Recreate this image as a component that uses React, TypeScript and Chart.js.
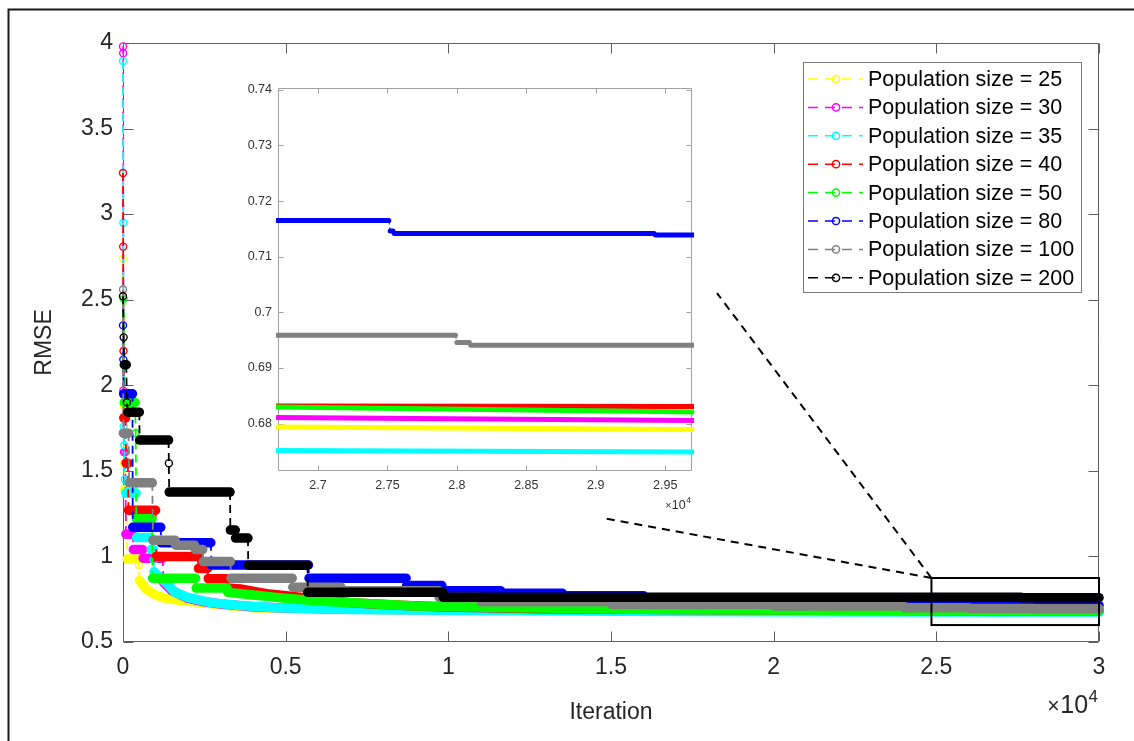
import React, { useEffect, useRef } from "react";
import { Chart, registerables } from "chart.js";

Chart.register(...registerables);

const FONT = "'Liberation Sans', Arial, Helvetica, sans-serif";

const seriesLabels = [
  "Population size = 25",
  "Population size = 30",
  "Population size = 35",
  "Population size = 40",
  "Population size = 50",
  "Population size = 80",
  "Population size = 100",
  "Population size = 200",
];
const seriesColors = ["#ffff00", "#ff00ff", "#00ffff", "#ff0000", "#00ff00", "#0000ff", "#808080", "#000000"];

const iter25 = [0, 20, 40, 60, 110, 130, 470, 490, 510, 700, 1000, 1300, 1700, 2400, 3000, 4000, 5000, 7000, 10000, 15000, 20000, 26700, 30000];
const rmse25 = [2.74, 1.88, 1.545, 1.39, 1.39, 0.985, 0.985, 0.95, 0.86, 0.81, 0.775, 0.755, 0.745, 0.73, 0.718, 0.7, 0.697, 0.692, 0.687, 0.684, 0.682, 0.6794, 0.6789];

const iter30 = [0, 5, 10, 30, 70, 90, 300, 320, 600, 620, 1220, 1240, 1500, 2000, 2500, 3000, 4000, 5000, 7000, 10000, 15000, 20000, 26700, 30000];
const rmse30 = [3.98, 3.94, 1.97, 1.61, 1.61, 1.13, 1.13, 1.04, 1.04, 0.99, 0.99, 0.85, 0.8, 0.755, 0.735, 0.722, 0.706, 0.698, 0.692, 0.688, 0.685, 0.683, 0.6811, 0.6805];

const iter35 = [0, 10, 20, 40, 60, 80, 400, 420, 850, 870, 930, 940, 950, 1300, 1600, 2000, 2700, 3500, 4700, 7000, 10000, 15000, 20000, 26700, 30000];
const rmse35 = [3.895, 2.95, 1.76, 1.65, 1.45, 1.37, 1.37, 1.11, 1.11, 1.04, 1.04, 0.98, 0.91, 0.85, 0.79, 0.76, 0.73, 0.715, 0.7, 0.69, 0.685, 0.68, 0.677, 0.6752, 0.6749];

const iter40 = [0, 5, 15, 25, 80, 95, 150, 170, 1000, 1020, 2300, 2320, 2600, 2620, 3200, 3220, 3600, 4500, 5500, 7000, 8500, 10000, 13000, 17000, 22000, 26700, 30000];
const rmse40 = [3.24, 2.81, 2.2, 1.81, 1.81, 1.545, 1.545, 1.27, 1.27, 1.0, 1.0, 0.93, 0.93, 0.87, 0.87, 0.815, 0.81, 0.78, 0.76, 0.73, 0.715, 0.705, 0.695, 0.69, 0.686, 0.6832, 0.6831];

const iter50 = [20, 40, 370, 390, 410, 890, 910, 2230, 2250, 3200, 3220, 4000, 5000, 6000, 7500, 9000, 12000, 16000, 20000, 24000, 26700, 30000];
const rmse50 = [2.505, 1.9, 1.9, 1.72, 1.22, 1.22, 0.873, 0.873, 0.815, 0.815, 0.79, 0.775, 0.755, 0.74, 0.725, 0.71, 0.7, 0.692, 0.687, 0.684, 0.683, 0.682];

const iter80 = [0, 10, 20, 290, 300, 1160, 1170, 2700, 2720, 5700, 5720, 8700, 8720, 9800, 9820, 11600, 11620, 13500, 13520, 16000, 16020, 19000, 19020, 22000, 22020, 25000, 25020, 27510, 27520, 27540, 27550, 29420, 29430, 30000];
const rmse80 = [2.35, 2.15, 1.95, 1.95, 1.17, 1.17, 1.08, 1.08, 0.95, 0.95, 0.873, 0.873, 0.83, 0.83, 0.8, 0.8, 0.785, 0.785, 0.77, 0.77, 0.755, 0.755, 0.74, 0.74, 0.725, 0.725, 0.7165, 0.7165, 0.7146, 0.7146, 0.71415, 0.71415, 0.7139, 0.7139];

const iter100 = [0, 10, 170, 190, 900, 920, 1600, 1620, 2200, 2220, 2450, 2470, 3300, 3320, 5200, 5220, 6700, 6720, 9700, 9720, 11000, 11020, 15000, 15020, 20000, 20020, 24000, 24020, 26000, 26020, 27990, 28000, 28090, 28100, 30000];
const rmse100 = [2.56, 1.72, 1.72, 1.43, 1.43, 1.095, 1.095, 1.066, 1.066, 1.04, 1.04, 0.97, 0.97, 0.873, 0.873, 0.82, 0.82, 0.8, 0.8, 0.76, 0.76, 0.735, 0.735, 0.72, 0.72, 0.71, 0.71, 0.7, 0.7, 0.6959, 0.6959, 0.6946, 0.6946, 0.6941, 0.6941];

const iter200 = [0, 20, 40, 100, 120, 150, 500, 510, 1400, 1410, 1420, 3290, 3300, 3450, 3460, 3840, 3850, 5670, 5680, 9830, 9840, 27600, 27620, 30000];
const rmse200 = [2.52, 2.28, 2.12, 2.12, 1.9, 1.843, 1.843, 1.68, 1.68, 1.545, 1.376, 1.376, 1.154, 1.154, 1.107, 1.107, 0.949, 0.949, 0.79, 0.79, 0.762, 0.762, 0.759, 0.759];

const seriesIters = [iter25, iter30, iter35, iter40, iter50, iter80, iter100, iter200];
const seriesRmse = [rmse25, rmse30, rmse35, rmse40, rmse50, rmse80, rmse100, rmse200];

const mainXRange = [0, 30000];
const mainYRange = [0.5, 4];
const mainXTicks = [0, 5000, 10000, 15000, 20000, 25000, 30000];
const mainYTicks = [0.5, 1, 1.5, 2, 2.5, 3, 3.5, 4];

const insetXRange = [26712, 29693];
const insetYRange = [0.6715, 0.7404];
const insetXTicks = [27000, 27500, 28000, 28500, 29000, 29500];
const insetYTicks = [0.68, 0.69, 0.7, 0.71, 0.72, 0.73, 0.74];

const zoomBoxX = [24850, 30000];
const zoomBoxY = [0.599, 0.874];
const connectorEnds = [
  [14723, 1.225],
  [18258, 2.539],
];

const flatSeg = (c: any) => Math.abs(c.p1.x - c.p0.x) >= 1.5;

function buildDatasets(thick: number, thin: number, dash: number[], radius: number, clip: any) {
  return seriesLabels.map((label, i) => ({
    label,
    data: seriesIters[i].map((x, k) => ({ x, y: seriesRmse[i][k] })),
    borderColor: seriesColors[i],
    backgroundColor: seriesColors[i],
    borderWidth: thin,
    borderDash: dash,
    borderJoinStyle: "round",
    pointRadius: radius,
    pointBorderWidth: 1.4,
    pointBackgroundColor: "rgba(255,255,255,0)",
    pointBorderColor: seriesColors[i],
    pointStyle: "circle",
    tension: 0,
    fill: false,
    order: seriesLabels.length - 1 - i,
    clip,
    segment: {
      borderWidth: (c: any) => (flatSeg(c) ? thick : thin),
      borderDash: (c: any) => (flatSeg(c) ? [] : dash),
      borderCapStyle: (c: any) => (flatSeg(c) ? "round" : "butt"),
    },
  }));
}

function drawAxesFrame(chart: any, color: string, len: number, xTicks: number[], yTicks: number[]) {
  const { ctx, chartArea: a, scales } = chart;
  const x = scales.x;
  const y = scales.y;
  ctx.save();
  ctx.strokeStyle = color;
  ctx.lineWidth = 1;
  ctx.setLineDash([]);
  const L = Math.round(a.left) + 0.5;
  const R = Math.round(a.right) - 0.5;
  const T = Math.round(a.top) + 0.5;
  const B = Math.round(a.bottom) - 0.5;
  ctx.beginPath();
  ctx.rect(L, T, R - L, B - T);
  xTicks.forEach((v) => {
    const px = Math.round(x.getPixelForValue(v)) + 0.5;
    ctx.moveTo(px, B);
    ctx.lineTo(px, B - len);
    ctx.moveTo(px, T);
    ctx.lineTo(px, T + len);
  });
  yTicks.forEach((v) => {
    const py = Math.round(y.getPixelForValue(v)) + 0.5;
    ctx.moveTo(L, py);
    ctx.lineTo(L + len, py);
    ctx.moveTo(R, py);
    ctx.lineTo(R - len, py);
  });
  ctx.stroke();
  ctx.restore();
}

function drawExponent(ctx: any, right: number, baseline: number, big: number, small: number, color: string) {
  ctx.save();
  ctx.fillStyle = color;
  ctx.textAlign = "right";
  ctx.textBaseline = "alphabetic";
  ctx.font = `${small}px ${FONT}`;
  ctx.fillText("4", right, baseline - big * 0.45);
  const supW = ctx.measureText("4").width;
  ctx.font = `${big}px ${FONT}`;
  const tenRight = right - supW - 0.5;
  ctx.fillText("10", tenRight, baseline);
  const tenW = ctx.measureText("10").width;
  ctx.font = `${big * 0.85}px ${FONT}`;
  ctx.fillText("\u00d7", tenRight - tenW - 0.5, baseline);
  ctx.restore();
}

function drawLegend(chart: any) {
  const { ctx, chartArea: a } = chart;
  const boxW = 278;
  const rowH = 28.4;
  const boxH = 230;
  const bx = Math.round(a.right - 18 - boxW);
  const by = Math.round(a.top + 19);
  ctx.save();
  ctx.fillStyle = "#ffffff";
  ctx.fillRect(bx, by, boxW, boxH);
  ctx.strokeStyle = "#7a7a7a";
  ctx.lineWidth = 1;
  ctx.strokeRect(bx + 0.5, by + 0.5, boxW, boxH);
  seriesLabels.forEach((label, i) => {
    const cy = by + 17 + i * rowH;
    ctx.strokeStyle = seriesColors[i];
    ctx.lineWidth = 1.5;
    ctx.setLineDash([10, 7]);
    ctx.beginPath();
    ctx.moveTo(bx + 5, cy);
    ctx.lineTo(bx + 60, cy);
    ctx.stroke();
    ctx.setLineDash([]);
    ctx.beginPath();
    ctx.arc(bx + 33, cy, 3.6, 0, Math.PI * 2);
    ctx.stroke();
    ctx.fillStyle = "#000000";
    ctx.font = `21.5px ${FONT}`;
    ctx.textAlign = "left";
    ctx.textBaseline = "middle";
    ctx.fillText(label, bx + 65, cy + 1);
  });
  ctx.restore();
}

const mainDecor = {
  id: "mainDecor",
  beforeDraw(chart: any) {
    const { ctx } = chart;
    ctx.save();
    ctx.fillStyle = "#ffffff";
    ctx.fillRect(0, 0, chart.width, chart.height);
    ctx.strokeStyle = "#1a1a1a";
    ctx.lineWidth = 2;
    ctx.beginPath();
    ctx.moveTo(8.5, chart.height);
    ctx.lineTo(8.5, 9.5);
    ctx.lineTo(chart.width, 9.5);
    ctx.stroke();
    ctx.restore();
  },
  beforeDatasetsDraw(chart: any) {
    drawAxesFrame(chart, "#5e5e5e", 10, mainXTicks, mainYTicks);
  },
  afterDatasetsDraw(chart: any) {
    const { ctx, scales } = chart;
    const x = scales.x;
    const y = scales.y;
    const x0 = x.getPixelForValue(zoomBoxX[0]);
    const x1 = x.getPixelForValue(zoomBoxX[1]);
    const y0 = y.getPixelForValue(zoomBoxY[1]);
    const y1 = y.getPixelForValue(zoomBoxY[0]);
    ctx.save();
    ctx.strokeStyle = "#000000";
    ctx.lineWidth = 2;
    ctx.setLineDash([]);
    ctx.strokeRect(x0, y0, x1 - x0, y1 - y0);
    ctx.setLineDash([8, 6]);
    connectorEnds.forEach(([cx, cyv]) => {
      ctx.beginPath();
      ctx.moveTo(x0, y0);
      ctx.lineTo(x.getPixelForValue(cx), y.getPixelForValue(cyv));
      ctx.stroke();
    });
    ctx.restore();
  },
  afterDraw(chart: any) {
    drawLegend(chart);
    const a = chart.chartArea;
    drawExponent(chart.ctx, a.right - 1, a.bottom + 71, 25, 17, "#262626");
  },
};

const insetDecor = {
  id: "insetDecor",
  beforeDraw(chart: any) {
    const { ctx, chartArea: a } = chart;
    ctx.save();
    ctx.fillStyle = "#ffffff";
    ctx.fillRect(a.left, a.top, a.right - a.left, a.bottom - a.top);
    ctx.restore();
  },
  beforeDatasetsDraw(chart: any) {
    drawAxesFrame(chart, "#a0a0a0", 5, insetXTicks, insetYTicks);
  },
  afterDraw(chart: any) {
    const a = chart.chartArea;
    drawExponent(chart.ctx, a.right - 1, a.bottom + 38, 12.5, 8.5, "#333333");
  },
};

function mainConfig(): any {
  const tickFont = { family: FONT, size: 23 };
  return {
    type: "line",
    data: { datasets: buildDatasets(9.5, 1.8, [8, 5], 3.5, { left: 8, top: 8, right: 8, bottom: 0 }) },
    options: {
      responsive: false,
      maintainAspectRatio: false,
      animation: false,
      events: [],
      layout: { padding: { left: 0, top: 43, right: 35, bottom: 0 } },
      plugins: { legend: { display: false }, tooltip: { enabled: false } },
      scales: {
        x: {
          type: "linear",
          min: mainXRange[0],
          max: mainXRange[1],
          afterFit: (s: any) => {
            s.height = 99;
          },
          afterBuildTicks: (s: any) => {
            s.ticks = mainXTicks.map((v) => ({ value: v }));
          },
          grid: { display: false, drawTicks: false },
          border: { display: false },
          ticks: {
            autoSkip: false,
            maxRotation: 0,
            padding: 12,
            color: "#262626",
            font: tickFont,
            callback: (v: any) => String(Number(v) / 10000),
          },
          title: {
            display: true,
            text: "Iteration",
            color: "#262626",
            font: tickFont,
            padding: { top: 0, bottom: 15 },
          },
        },
        y: {
          type: "linear",
          min: mainYRange[0],
          max: mainYRange[1],
          afterFit: (s: any) => {
            s.width = 123;
          },
          afterBuildTicks: (s: any) => {
            s.ticks = mainYTicks.map((v) => ({ value: v }));
          },
          grid: { display: false, drawTicks: false },
          border: { display: false },
          ticks: {
            autoSkip: false,
            padding: 10,
            color: "#262626",
            font: tickFont,
            callback: (v: any) => String(v),
          },
          title: {
            display: true,
            text: "RMSE",
            color: "#262626",
            font: tickFont,
            padding: { top: 31, bottom: 0 },
          },
        },
      },
    },
    plugins: [mainDecor],
  };
}

function insetConfig(): any {
  const tickFont = { family: FONT, size: 12.5 };
  return {
    type: "line",
    data: { datasets: buildDatasets(5, 1, [4, 3], 0, { left: 2, top: 0, right: 2, bottom: 0 }) },
    options: {
      responsive: false,
      maintainAspectRatio: false,
      animation: false,
      events: [],
      layout: { padding: { left: 0, top: 10, right: 8, bottom: 0 } },
      plugins: { legend: { display: false }, tooltip: { enabled: false } },
      scales: {
        x: {
          type: "linear",
          min: insetXRange[0],
          max: insetXRange[1],
          afterFit: (s: any) => {
            s.height = 49;
          },
          afterBuildTicks: (s: any) => {
            s.ticks = insetXTicks.map((v) => ({ value: v }));
          },
          grid: { display: false, drawTicks: false },
          border: { display: false },
          ticks: {
            autoSkip: false,
            maxRotation: 0,
            padding: 7,
            color: "#333333",
            font: tickFont,
            callback: (v: any) => String(Number(v) / 10000),
          },
        },
        y: {
          type: "linear",
          min: insetYRange[0],
          max: insetYRange[1],
          afterFit: (s: any) => {
            s.width = 48;
          },
          afterBuildTicks: (s: any) => {
            s.ticks = insetYTicks.map((v) => ({ value: v }));
          },
          grid: { display: false, drawTicks: false },
          border: { display: false },
          ticks: {
            autoSkip: false,
            padding: 6,
            color: "#333333",
            font: tickFont,
            callback: (v: any) => String(v),
          },
        },
      },
    },
    plugins: [insetDecor],
  };
}

export default function App() {
  const mainRef = useRef<HTMLCanvasElement>(null);
  const insetRef = useRef<HTMLCanvasElement>(null);
  useEffect(() => {
    const main = new Chart(mainRef.current as HTMLCanvasElement, mainConfig());
    const inset = new Chart(insetRef.current as HTMLCanvasElement, insetConfig());
    return () => {
      main.destroy();
      inset.destroy();
    };
  }, []);
  return (
    <div
      style={{
        position: "fixed",
        left: 0,
        top: 0,
        width: 1134,
        height: 741,
        background: "#ffffff",
        overflow: "hidden",
      }}
    >
      <canvas ref={mainRef} width={1134} height={741} style={{ position: "absolute", left: 0, top: 0 }} />
      <canvas ref={insetRef} width={470} height={446} style={{ position: "absolute", left: 230, top: 74 }} />
    </div>
  );
}
